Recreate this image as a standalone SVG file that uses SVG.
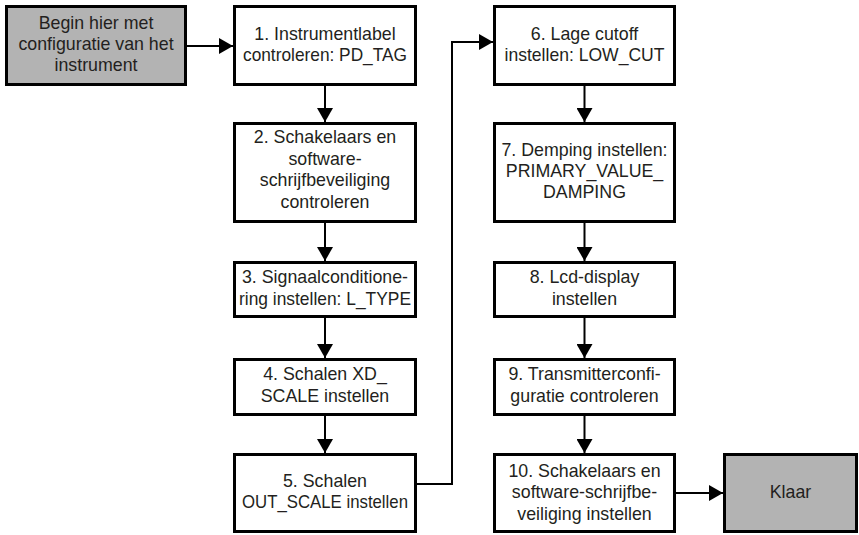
<svg xmlns="http://www.w3.org/2000/svg" width="859" height="535" viewBox="0 0 859 535">
<defs>
<style>
.box{fill:#ffffff;stroke:#000;stroke-width:3}
.gray{fill:#b3b3b3}
.t{font-family:"Liberation Sans",Arial,sans-serif;font-size:17.8px;fill:#231f20;text-anchor:middle}
.c{fill:none;stroke:#000;stroke-width:2}
</style>
<marker id="ah" markerUnits="userSpaceOnUse" markerWidth="14" markerHeight="16" refX="14" refY="8" orient="auto">
<path d="M0,0 L14,8 L0,16 z" fill="#000"/>
</marker>
</defs>
<rect width="859" height="535" fill="#fff"/>
<g id="connectors">
<path class="c" marker-end="url(#ah)" d="M187,46 H233"/>
<path class="c" marker-end="url(#ah)" d="M325,86 V122"/>
<path class="c" marker-end="url(#ah)" d="M325,223 V261"/>
<path class="c" marker-end="url(#ah)" d="M325,318 V358"/>
<path class="c" marker-end="url(#ah)" d="M325,416 V453"/>
<path class="c" marker-end="url(#ah)" d="M417,484 H452 V42 H493"/>
<path class="c" marker-end="url(#ah)" d="M584.5,86 V122"/>
<path class="c" marker-end="url(#ah)" d="M584.5,223 V261"/>
<path class="c" marker-end="url(#ah)" d="M584.5,318 V358"/>
<path class="c" marker-end="url(#ah)" d="M584.5,416 V453"/>
<path class="c" marker-end="url(#ah)" d="M676,493 H723"/>
</g>
<g id="start">
<rect class="box gray" x="6.5" y="6.5" width="179" height="78"/>
<text class="t" x="96" y="28.5">Begin hier met</text>
<text class="t" x="96" y="49.5">configuratie van het</text>
<text class="t" x="96" y="70.5">instrument</text>
</g>
<g id="step1">
<rect class="box" x="234.5" y="6.5" width="181" height="78"/>
<text class="t" x="325" y="39.5">1. Instrumentlabel</text>
<text class="t" x="325" y="61" textLength="164" lengthAdjust="spacingAndGlyphs">controleren: PD_TAG</text>
</g>
<g id="step2">
<rect class="box" x="234.5" y="123.5" width="181" height="98"/>
<text class="t" x="325" y="143">2. Schakelaars en</text>
<text class="t" x="325" y="164.5">software-</text>
<text class="t" x="325" y="186">schrijfbeveiliging</text>
<text class="t" x="325" y="207.5">controleren</text>
</g>
<g id="step3">
<rect class="box" x="234.5" y="262.5" width="181" height="54"/>
<text class="t" x="325" y="283">3. Signaalconditione-</text>
<text class="t" x="325" y="304.5" textLength="172" lengthAdjust="spacingAndGlyphs">ring instellen: L_TYPE</text>
</g>
<g id="step4">
<rect class="box" x="234.5" y="359.5" width="181" height="55"/>
<text class="t" x="325" y="380">4. Schalen XD_</text>
<text class="t" x="325" y="401.5">SCALE instellen</text>
</g>
<g id="step5">
<rect class="box" x="234.5" y="454.5" width="181" height="77"/>
<text class="t" x="325" y="486.5">5. Schalen</text>
<text class="t" x="325" y="507.5" textLength="166" lengthAdjust="spacingAndGlyphs">OUT_SCALE instellen</text>
</g>
<g id="step6">
<rect class="box" x="494.5" y="6.5" width="180" height="78"/>
<text class="t" x="584.5" y="39.5">6. Lage cutoff</text>
<text class="t" x="584.5" y="60.5" textLength="160" lengthAdjust="spacingAndGlyphs">instellen: LOW_CUT</text>
</g>
<g id="step7">
<rect class="box" x="494.5" y="123.5" width="180" height="98"/>
<text class="t" x="584.5" y="156">7. Demping instellen:</text>
<text class="t" x="584.5" y="177">PRIMARY_VALUE_</text>
<text class="t" x="584.5" y="198">DAMPING</text>
</g>
<g id="step8">
<rect class="box" x="494.5" y="262.5" width="180" height="54"/>
<text class="t" x="584.5" y="283">8. Lcd-display</text>
<text class="t" x="584.5" y="304.5">instellen</text>
</g>
<g id="step9">
<rect class="box" x="494.5" y="359.5" width="180" height="55"/>
<text class="t" x="584.5" y="380">9. Transmitterconfi-</text>
<text class="t" x="584.5" y="401.5">guratie controleren</text>
</g>
<g id="step10">
<rect class="box" x="494.5" y="454.5" width="180" height="77"/>
<text class="t" x="584.5" y="476.5">10. Schakelaars en</text>
<text class="t" x="584.5" y="498">software-schrijfbe-</text>
<text class="t" x="584.5" y="519.5">veiliging instellen</text>
</g>
<g id="done">
<rect class="box gray" x="724.5" y="454.5" width="132" height="77"/>
<text class="t" x="790.5" y="498">Klaar</text>
</g>
</svg>
